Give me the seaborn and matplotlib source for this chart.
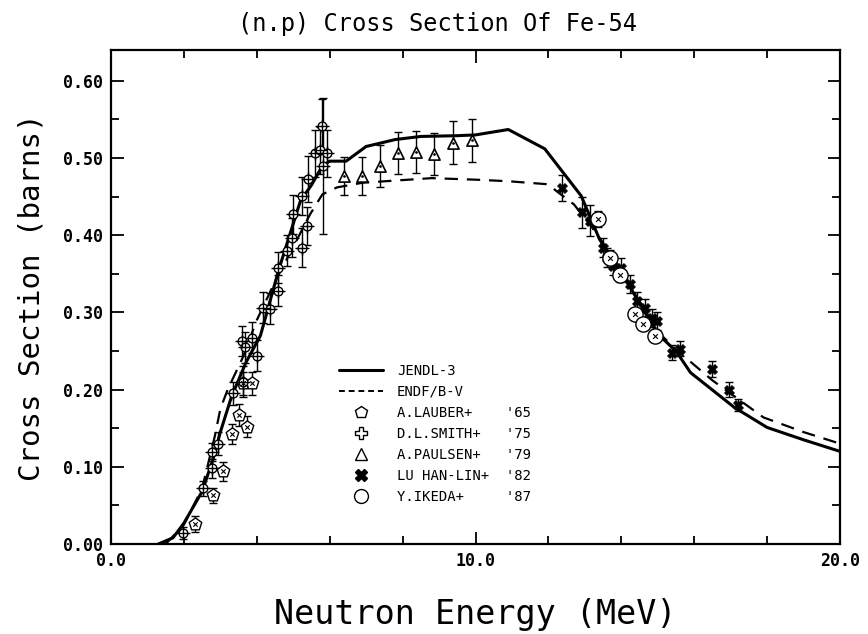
import numpy as np
import pandas as pd
import seaborn as sns
import matplotlib
matplotlib.use("Agg")
import matplotlib.pyplot as plt
from matplotlib.lines import Line2D
from matplotlib.ticker import MultipleLocator, FormatStrFormatter

#%% Data
jendl_e = [1.3, 1.7, 2.0, 2.5, 2.8, 3.0, 3.3, 3.7, 4.1, 4.6, 5.2, 5.5, 5.8, 6.0, 6.45, 7.0, 7.8, 8.5,
           9.5, 10.0, 10.9, 11.9, 12.9, 13.4, 14.3, 15.0, 15.5, 15.9, 17.1, 18.0, 19.0, 20.0]
jendl_xs = [0.0, 0.008, 0.027, 0.068, 0.11, 0.145, 0.19, 0.235, 0.27, 0.355, 0.445, 0.465, 0.49, 0.496,
            0.496, 0.515, 0.524, 0.528, 0.529, 0.53, 0.537, 0.512, 0.451, 0.395, 0.328, 0.272, 0.25,
            0.222, 0.177, 0.151, 0.135, 0.12]

endf_e = [1.5, 2.0, 2.5, 2.85, 3.0, 3.2, 3.6, 4.0, 4.5, 5.0, 5.46, 5.8, 6.2, 6.9, 8.8, 10.0, 10.9,
          12.0, 12.2, 12.7, 13.2, 13.5, 14.3, 15.0, 15.5, 16.5, 17.9, 19.0, 20.0]
endf_xs = [0.0, 0.025, 0.072, 0.14, 0.175, 0.2, 0.24, 0.29, 0.34, 0.385, 0.427, 0.453, 0.462, 0.468,
           0.474, 0.472, 0.47, 0.466, 0.458, 0.44, 0.41, 0.39, 0.33, 0.275, 0.252, 0.212, 0.164,
           0.145, 0.13]

lauber_e = [2.3, 2.8, 3.07, 3.32, 3.51, 3.73, 3.62, 3.87]
lauber_xs = [0.026, 0.063, 0.094, 0.142, 0.167, 0.152, 0.208, 0.208]
lauber_err = [0.010, 0.010, 0.012, 0.013, 0.014, 0.014, 0.015, 0.015]

smith_e = [1.98, 2.52, 2.77, 2.77, 2.94, 3.35, 3.62, 3.6, 3.68, 3.87, 4.0, 4.17, 4.36, 4.58,
           4.58, 4.83, 4.97, 5.24, 5.38, 5.0, 5.24, 5.4, 5.6, 5.73, 5.92, 5.78, 5.82]
smith_xs = [0.014, 0.072, 0.098, 0.119, 0.13, 0.195, 0.21, 0.263, 0.255, 0.267, 0.244, 0.306,
            0.305, 0.328, 0.358, 0.38, 0.397, 0.384, 0.412, 0.427, 0.451, 0.473, 0.506, 0.51,
            0.506, 0.541, 0.49]
smith_err = [0.008, 0.010, 0.012, 0.012, 0.015, 0.015, 0.020, 0.020, 0.020, 0.020, 0.020, 0.020,
             0.020, 0.020, 0.020, 0.020, 0.025, 0.025, 0.025, 0.025, 0.025, 0.030, 0.030, 0.030,
             0.030, 0.035, 0.088]

paulsen_e = [6.4, 6.88, 7.38, 7.87, 8.38, 8.86, 9.38, 9.9]
paulsen_xs = [0.477, 0.477, 0.49, 0.507, 0.508, 0.505, 0.52, 0.523]
paulsen_err = [0.025, 0.025, 0.027, 0.027, 0.027, 0.027, 0.028, 0.028]

lu_e = [12.37, 12.92, 13.14, 13.5, 13.6, 13.77, 14.0, 14.24, 14.43, 14.65, 14.84, 14.98, 15.4,
        15.6, 16.5, 16.95, 17.2]
lu_xs = [0.461, 0.43, 0.419, 0.384, 0.371, 0.36, 0.358, 0.337, 0.315, 0.306, 0.293, 0.289, 0.248,
         0.253, 0.227, 0.2, 0.18]
lu_err = [0.017, 0.020, 0.020, 0.012, 0.012, 0.012, 0.012, 0.012, 0.012, 0.012, 0.012, 0.012,
          0.010, 0.010, 0.010, 0.010, 0.008]

ikeda_e = [13.37, 13.7, 13.97, 14.38, 14.6, 14.93]
ikeda_xs = [0.421, 0.371, 0.348, 0.298, 0.285, 0.27]
ikeda_err = [0.010, 0.010, 0.008, 0.008, 0.008, 0.008]

#%% Plot
sns.set_style('ticks')
plt.rcParams['font.family'] = ['DejaVu Sans Mono', 'DejaVu Sans']
for key in ['text.color', 'axes.labelcolor', 'xtick.color', 'ytick.color', 'axes.edgecolor']:
    plt.rcParams[key] = 'black'
mono = 'DejaVu Sans Mono'

f = plt.figure(figsize=(8.68, 6.34), dpi=100)
ax = f.add_axes([111/868, 1-544/634, (840-111)/868, (544-50)/634])

sns.lineplot(x=jendl_e, y=jendl_xs, ax=ax, color='black', lw=2.2, sort=False, estimator=None)
sns.lineplot(x=endf_e, y=endf_xs, ax=ax, color='black', lw=1.6, sort=False, estimator=None,
             linestyle=(0, (6, 4)))

sets = [(lauber_e, lauber_xs, lauber_err), (smith_e, smith_xs, smith_err),
        (paulsen_e, paulsen_xs, paulsen_err), (lu_e, lu_xs, lu_err), (ikeda_e, ikeda_xs, ikeda_err)]
for e, xs, err in sets:
    ax.errorbar(e, xs, yerr=err, fmt='none', ecolor='black', elinewidth=1.0, capsize=3, capthick=1.0)

# A.LAUBER: pentagon with x
sns.scatterplot(x=lauber_e, y=lauber_xs, ax=ax, marker='p', s=90, facecolor='white', edgecolor='black', linewidth=1.0, zorder=5)
sns.scatterplot(x=lauber_e, y=lauber_xs, ax=ax, marker='x', s=10, color='black', linewidth=0.8, zorder=6)
# D.L.SMITH: clover
sns.scatterplot(x=smith_e, y=smith_xs, ax=ax, marker='o', s=40, facecolor='white', edgecolor='black', linewidth=1.0, zorder=5)
sns.scatterplot(x=smith_e, y=smith_xs, ax=ax, marker='+', s=110, color='black', linewidth=1.0, zorder=6)
# A.PAULSEN: triangle
sns.scatterplot(x=paulsen_e, y=paulsen_xs, ax=ax, marker='^', s=65, facecolor='white', edgecolor='black', linewidth=1.2, zorder=5)
sns.scatterplot(x=paulsen_e, y=paulsen_xs, ax=ax, marker='.', s=15, color='black', linewidth=0, zorder=6)
# LU HAN-LIN: filled x
sns.scatterplot(x=lu_e, y=lu_xs, ax=ax, marker='X', s=50, color='black', edgecolor='black', linewidth=0.6, zorder=5)
# Y.IKEDA: circle with x
sns.scatterplot(x=ikeda_e, y=ikeda_xs, ax=ax, marker='o', s=120, facecolor='white', edgecolor='black', linewidth=1.0, zorder=5)
sns.scatterplot(x=ikeda_e, y=ikeda_xs, ax=ax, marker='x', s=12, color='black', linewidth=0.8, zorder=6)

ax.set_xlim(0, 20)
ax.set_ylim(0, 0.64)
ax.xaxis.set_major_locator(MultipleLocator(10))
ax.xaxis.set_minor_locator(MultipleLocator(2))
ax.yaxis.set_major_locator(MultipleLocator(0.1))
ax.yaxis.set_minor_locator(MultipleLocator(0.05))
ax.xaxis.set_major_formatter(FormatStrFormatter('%.1f'))
ax.yaxis.set_major_formatter(FormatStrFormatter('%.2f'))
ax.tick_params(which='both', direction='in', top=True, right=True, width=1.3)
ax.tick_params(which='major', length=9, labelsize=12, pad=6)
ax.tick_params(which='minor', length=6)
for lab in ax.get_xticklabels() + ax.get_yticklabels():
    lab.set_fontweight('bold')
for axis in ['top', 'bottom', 'left', 'right']:
    ax.spines[axis].set_linewidth(1.6)

ax.set_xlabel("Neutron Energy (MeV)", fontsize=24, labelpad=20)
ax.set_ylabel("Cross Section (barns)", fontsize=21, labelpad=12)
f.text(437/868, 1-24/634, "(n.p) Cross Section Of Fe-54", ha='center', va='center', fontsize=17)

handles = [
    Line2D([], [], color='black', lw=2.2),
    Line2D([], [], color='black', lw=1.4, linestyle=(0, (3, 2))),
    Line2D([], [], marker='p', ls='none', mfc='white', mec='black', ms=9),
    Line2D([], [], marker='P', ls='none', mfc='white', mec='black', ms=9),
    Line2D([], [], marker='^', ls='none', mfc='white', mec='black', ms=8),
    Line2D([], [], marker='X', ls='none', mfc='black', mec='black', ms=8),
    Line2D([], [], marker='o', ls='none', mfc='white', mec='black', ms=10),
]
labels = ["JENDL-3", "ENDF/B-V", "A.LAUBER+    '65", "D.L.SMITH+   '75", "A.PAULSEN+   '79",
          "LU HAN-LIN+  '82", "Y.IKEDA+     '87"]
leg = ax.legend(handles, labels, loc='upper left', bbox_to_anchor=(0.295, 0.39), frameon=False,
                prop={'family': mono, 'size': 10}, handlelength=3.2, labelspacing=0.5, handletextpad=1.0)

plt.savefig('out.png', dpi=100)
